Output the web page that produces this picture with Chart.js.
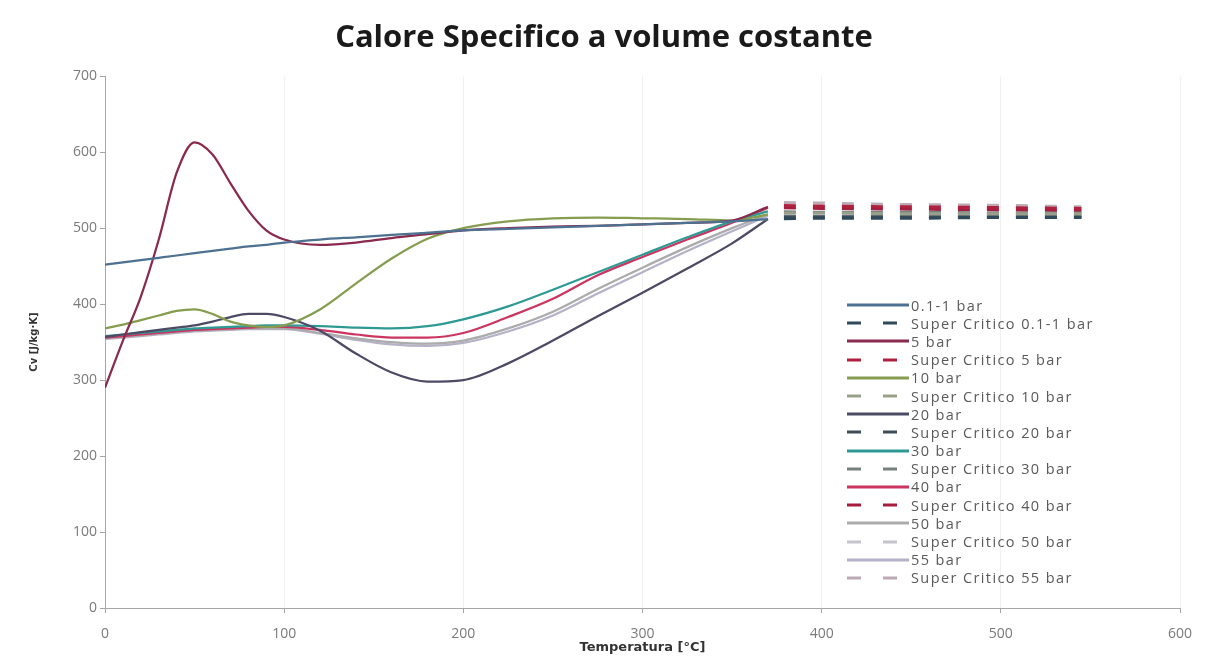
<!DOCTYPE html>
<html>
<head>
<meta charset="utf-8">
<script src="https://cdn.jsdelivr.net/npm/chart.js"></script>
<style>
body { margin: 0; background: #fff; }
#wrap { position: relative; width: 1213px; height: 662px; }
#legend { position: absolute; left: 847px; top: 296px; font-family: "Open Sans", sans-serif; font-size: 14.5px; letter-spacing: 1.4px; color: #595959; }
.item { height: 18.2px; display: flex; align-items: center; white-space: nowrap; }
.item svg { margin-right: 2px; }
</style>
</head>
<body>
<div id="wrap"><canvas id="cv"></canvas><div id="legend"></div></div>
<script>
// temperature [°C] for the sub-critical curves
var temps = [0, 10, 20, 30, 40, 50, 60, 70, 80, 90, 100, 120, 140, 160, 180, 200, 225, 250, 275, 300, 325, 350, 370];
// temperature [°C] for the super-critical part
var tempsSC = [370, 400, 450, 500, 545];

var cv01 = [452, 455, 458, 461, 464, 467, 470, 473, 476, 478, 481, 485, 488, 491, 494, 497, 499, 501, 503, 505, 507, 509, 512];
var cv5  = [290, 352, 410, 485, 573, 613, 597, 559, 523, 497, 485, 478, 481, 487, 492, 497, 500, 502, 503, 505, 507, 510, 528];
var cv10 = [368, 373, 379, 385, 391, 393, 387, 377, 372, 370, 372, 393, 427, 460, 486, 500, 509, 513, 514, 513, 512, 510, 518];
var cv20 = [357, 360, 363, 366, 369, 372, 377, 383, 387, 387, 383, 365, 335, 310, 298, 300, 322, 352, 384, 415, 447, 480, 512];
var cv30 = [358, 360, 362, 364, 366, 368, 369, 370, 371, 372, 372, 371, 369, 368, 371, 380, 397, 419, 442, 465, 488, 509, 522];
var cv40 = [356, 358, 360, 362, 364, 366, 367, 368, 369, 370, 370, 366, 360, 356, 356, 362, 383, 407, 438, 462, 485, 507, 527];
var cv50 = [355, 357, 359, 361, 363, 365, 366, 367, 368, 368, 368, 362, 355, 350, 348, 352, 368, 390, 420, 448, 475, 500, 518];
var cv55 = [354, 356, 358, 360, 362, 364, 365, 366, 367, 367, 367, 361, 353, 347, 345, 349, 364, 385, 414, 442, 470, 496, 516];

var sc01 = [512, 513, 513, 514, 514];
var sc5  = [530, 529, 528, 527, 526];
var sc10 = [520, 520, 519, 519, 519];
var sc20 = [515, 515, 515, 515, 515];
var sc30 = [522, 521, 521, 520, 520];
var sc40 = [527, 526, 525, 524, 523];
var sc50 = [518, 518, 518, 518, 518];
var sc55 = [534, 533, 531, 530, 528];

var seriesNames = ['0.1-1 bar', 'Super Critico 0.1-1 bar', '5 bar', 'Super Critico 5 bar', '10 bar', 'Super Critico 10 bar',
  '20 bar', 'Super Critico 20 bar', '30 bar', 'Super Critico 30 bar', '40 bar', 'Super Critico 40 bar',
  '50 bar', 'Super Critico 50 bar', '55 bar', 'Super Critico 55 bar'];
var seriesValues = [cv01, sc01, cv5, sc5, cv10, sc10, cv20, sc20, cv30, sc30, cv40, sc40, cv50, sc50, cv55, sc55];
var seriesColors = ['#4d7191', '#2f4a5a', '#8a2a4e', '#b0203f', '#869d50', '#98a08a', '#4c4a64', '#3e4c5a',
  '#2f9a94', '#76807f', '#cc3560', '#a51d3f', '#ababab', '#c4c4cc', '#b4b2c6', '#bcaab4'];

function pts(xs, ys) {
  var out = [];
  for (var i = 0; i < xs.length; i++) out.push({ x: xs[i], y: ys[i] });
  return out;
}

var datasets = [];
for (var i = 0; i < seriesNames.length; i++) {
  var sc = i % 2 == 1;
  datasets.push({
    label: seriesNames[i],
    data: pts(sc ? tempsSC : temps, seriesValues[i]),
    borderColor: seriesColors[i],
    backgroundColor: seriesColors[i],
    borderWidth: sc ? 3 : 2.25,
    borderDash: sc ? [12, 17] : [],
    borderDashOffset: sc ? 13 : 0,
    pointRadius: 0,
    cubicInterpolationMode: 'monotone',
    fill: false
  });
}

var axisColor = '#a6a6a6';
var tickFont = { family: 'Open Sans', size: 14, lineHeight: 1 };
var ctx = document.getElementById('cv').getContext('2d');
var chart = new Chart(ctx, {
  type: 'line',
  data: { datasets: datasets },
  options: {
    responsive: true,
    maintainAspectRatio: false,
    animation: false,
    layout: { padding: { left: 28, right: 33, top: 0, bottom: 8 } },
    plugins: {
      legend: { display: false },
      tooltip: { enabled: false },
      title: {
        display: true,
        text: 'Calore Specifico a volume costante',
        color: '#1a1a1a',
        font: { family: 'Open Sans', size: 31, weight: 'bold' },
        padding: { top: 20, bottom: 19 }
      }
    },
    scales: {
      x: {
        type: 'linear',
        min: 0, max: 600,
        ticks: { stepSize: 100, color: '#7a7a7a', font: tickFont, padding: 14 },
        grid: { color: 'rgba(0,0,0,0.06)', tickColor: axisColor, tickLength: 5 },
        border: { color: axisColor },
        title: { display: true, text: 'Temperatura [°C]', color: '#333', font: { family: 'DejaVu Sans', size: 13, weight: 'bold', lineHeight: 1 }, padding: { top: -14, bottom: 0 } }
      },
      y: {
        min: 0, max: 700,
        ticks: { stepSize: 100, color: '#7a7a7a', font: tickFont, padding: 3 },
        grid: { drawOnChartArea: false, tickColor: axisColor, tickLength: 5 },
        border: { color: axisColor },
        title: { display: true, text: 'Cv [J/kg·K]', color: '#333', font: { family: 'DejaVu Sans', size: 10, weight: 'bold' }, padding: { top: 0, bottom: 30 } }
      }
    }
  }
});

// legend drawn inside the plot, Excel style
var leg = document.getElementById('legend');
chart.data.datasets.forEach(function (ds) {
  var row = document.createElement('div');
  row.className = 'item';
  var dash = ds.borderDash.length ? 'stroke-dasharray="14,22"' : '';
  row.innerHTML = '<svg width="62" height="6"><line x1="0" y1="3" x2="62" y2="3" stroke="' + ds.borderColor +
    '" stroke-width="3" ' + dash + '/></svg><span>' + ds.label + '</span>';
  leg.appendChild(row);
});
</script>
</body>
</html>
